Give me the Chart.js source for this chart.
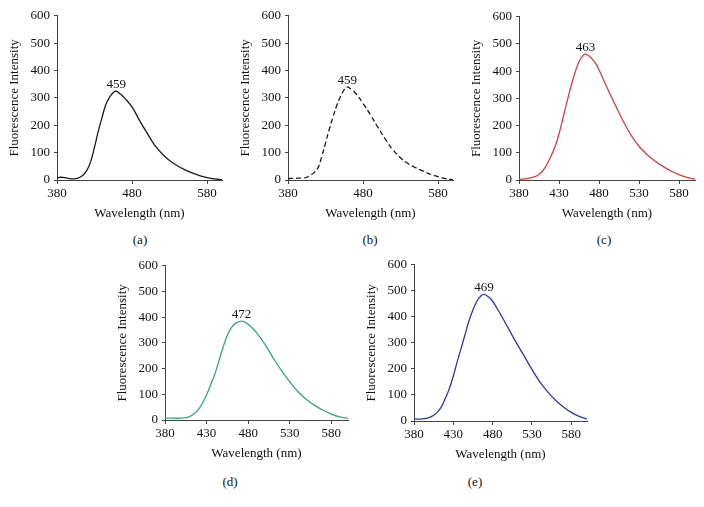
<!DOCTYPE html>
<html>
<head>
<meta charset="utf-8">
<script src="https://cdn.jsdelivr.net/npm/chart.js@4.4.0/dist/chart.umd.min.js"></script>
<style>
    body { margin: 0; background: #fff; width: 704px; height: 507px; position: relative; overflow: hidden; font-family: "Liberation Serif", serif; }
    canvas { position: absolute; }
    .tag { position: absolute; font-size: 13px; line-height: 16px; color: #111; transform: translateX(-50%); opacity: 0.99; }
</style>
</head>
<body>
<script>
// spectra (wavelength in nm, intensity)
const waveA = [380, 385, 390, 395, 400, 405, 410, 415, 420, 425, 430, 435, 440, 445, 450, 455, 459, 465, 470, 480, 490, 500, 510, 520, 530, 540, 550, 560, 570, 580, 590, 600];
const intA  = [8, 10, 9, 6, 4, 5, 9, 18, 36, 68, 120, 178, 228, 275, 302, 320, 325, 313, 300, 267, 218, 172, 128, 96, 71, 53, 38, 26, 16, 9, 4, 1];

const waveB = [380, 385, 390, 395, 400, 405, 410, 415, 420, 425, 430, 435, 440, 445, 450, 455, 459, 465, 470, 480, 490, 500, 510, 520, 530, 540, 550, 560, 570, 580, 590, 600];
const intB  = [5, 6, 6, 7, 7, 10, 17, 28, 45, 85, 135, 185, 230, 272, 305, 330, 340, 330, 318, 280, 238, 192, 148, 110, 81, 60, 45, 33, 21, 12, 5, 1];

const waveC = [380, 390, 400, 405, 410, 415, 420, 425, 430, 435, 440, 445, 450, 455, 460, 463, 468, 475, 480, 490, 500, 510, 520, 530, 540, 550, 560, 570, 580, 590, 600];
const intC  = [2, 5, 12, 20, 35, 58, 88, 122, 170, 228, 288, 345, 395, 435, 458, 463, 455, 432, 405, 340, 278, 218, 165, 124, 94, 70, 50, 33, 20, 10, 3];

const waveD = [380, 390, 400, 405, 410, 415, 420, 425, 430, 435, 440, 445, 450, 455, 460, 465, 472, 478, 485, 490, 500, 510, 520, 530, 540, 550, 560, 570, 580, 590, 600];
const intD  = [7, 7, 7, 9, 14, 24, 40, 65, 98, 138, 180, 232, 285, 330, 360, 377, 385, 377, 358, 340, 295, 242, 192, 148, 110, 80, 57, 38, 23, 12, 6];

const waveE = [380, 385, 390, 395, 400, 405, 410, 415, 420, 425, 430, 435, 440, 445, 450, 455, 460, 465, 469, 475, 480, 485, 490, 500, 510, 520, 530, 540, 550, 560, 570, 580, 590, 600];
const intE  = [9, 7, 8, 10, 14, 22, 35, 55, 88, 125, 173, 228, 280, 333, 385, 427, 460, 480, 486, 476, 460, 436, 410, 356, 301, 250, 198, 150, 112, 80, 54, 33, 18, 8];

const peakWaves = [459, 459, 463, 472, 469];
const panelTags = ["(a)", "(b)", "(c)", "(d)", "(e)"];
const xTicksWide = [380, 480, 580];
const xTicksFine = [380, 430, 480, 530, 580];
const yTicks = [0, 100, 200, 300, 400, 500, 600];

// plot area boxes in page pixels: left, top, right, bottom
const boxes = [
    [57, 14, 222, 180],
    [288, 14, 453, 180],
    [519, 15, 695, 180],
    [165, 264, 348, 420],
    [414, 263, 587, 421]
];
const tagPos = [[140, 240], [370, 240], [604, 240], [230, 482], [475, 482]];
const lineColors = ["#1a1a1a", "#1a1a1a", "#dc3b47", "#34aa7c", "#3434b4"];
const Y_AXIS_W = 57, X_AXIS_H = 45, PAD_TOP = 10, PAD_RIGHT = 8;

const font13 = { family: "Liberation Serif", size: 13 };

const peakLabel = {
    id: "peakLabel",
    afterDatasetsDraw(chart, args, opts) {
        const { ctx, scales: { x, y } } = chart;
        const pts = chart.data.datasets[0].data;
        const top = pts.reduce((m, p) => (p.y > m.y ? p : m));
        ctx.save();
        ctx.font = '13px "Liberation Serif"';
        ctx.fillStyle = "#111";
        ctx.textAlign = "center";
        ctx.textBaseline = "alphabetic";
        ctx.fillText(opts.text, x.getPixelForValue(opts.wave), y.getPixelForValue(top.y) - 3);
        ctx.restore();
    }
};

function makeChart(i, waves, ints, xTicks, dash) {
    const box = boxes[i];
    const canvas = document.createElement("canvas");
    canvas.width = box[2] - box[0] + Y_AXIS_W + PAD_RIGHT;
    canvas.height = box[3] - box[1] + PAD_TOP + X_AXIS_H;
    canvas.style.left = (box[0] - Y_AXIS_W) + "px";
    canvas.style.top = (box[1] - PAD_TOP) + "px";
    document.body.appendChild(canvas);

    const tag = document.createElement("div");
    tag.className = "tag";
    tag.textContent = panelTags[i];
    tag.style.left = tagPos[i][0] + "px";
    tag.style.top = (tagPos[i][1] - 8) + "px";
    document.body.appendChild(tag);

    new Chart(canvas.getContext("2d"), {
        type: "line",
        data: {
            datasets: [{
                data: waves.map((w, k) => ({ x: w, y: ints[k] })),
                borderColor: lineColors[i],
                borderWidth: 1.3,
                borderDash: dash,
                fill: false,
                pointRadius: 0,
                tension: 0.4
            }]
        },
        options: {
            responsive: false,
            animation: false,
            layout: { padding: { top: PAD_TOP, right: PAD_RIGHT, left: 0, bottom: 0 } },
            scales: {
                x: {
                    type: "linear",
                    min: 380,
                    max: 600,
                    afterBuildTicks: scale => { scale.ticks = xTicks.map(v => ({ value: v })); },
                    afterFit: scale => { scale.height = X_AXIS_H; },
                    grid: { display: true, drawOnChartArea: false, drawTicks: true, tickLength: 4, color: "#444" },
                    border: { display: true, color: "#444", width: 1 },
                    ticks: { font: font13, color: "#111", padding: 2, maxRotation: 0 },
                    title: { display: true, text: "Wavelength (nm)", font: font13, color: "#111", padding: { top: 0, bottom: 4 } }
                },
                y: {
                    min: 0,
                    max: 600,
                    afterBuildTicks: scale => { scale.ticks = yTicks.map(v => ({ value: v })); },
                    afterFit: scale => { scale.width = Y_AXIS_W; },
                    grid: { display: true, drawOnChartArea: false, drawTicks: true, tickLength: 3, color: "#444" },
                    border: { display: true, color: "#444", width: 1 },
                    ticks: { font: font13, color: "#111", padding: 4 },
                    title: { display: true, text: "Fluorescence Intensity", font: font13, color: "#111", padding: { top: 7, bottom: 0 } }
                }
            },
            plugins: {
                legend: { display: false },
                tooltip: { enabled: false },
                peakLabel: { text: String(peakWaves[i]), wave: peakWaves[i] }
            }
        },
        plugins: [peakLabel]
    });
}

makeChart(0, waveA, intA, xTicksWide, []);
makeChart(1, waveB, intB, xTicksWide, [5, 3]);
makeChart(2, waveC, intC, xTicksFine, []);
makeChart(3, waveD, intD, xTicksFine, []);
makeChart(4, waveE, intE, xTicksFine, []);
</script>
</body>
</html>
